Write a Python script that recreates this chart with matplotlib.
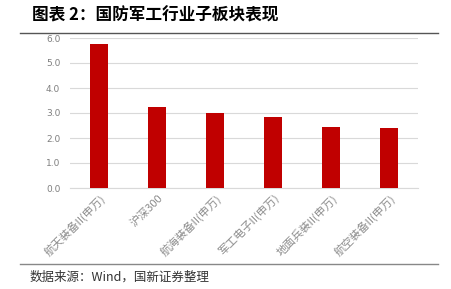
import matplotlib
matplotlib.use("Agg")
import matplotlib.pyplot as plt

plt.rcParams['font.family'] = ['Noto Sans CJK SC', 'DejaVu Sans']

categories = ["航天装备II(申万)", "沪深300", "航海装备II(申万)", "军工电子II(申万)",
              "地面兵装II(申万)", "航空装备II(申万)"]
values = [5.78, 3.24, 3.0, 2.84, 2.44, 2.4]
yticks = [0, 1, 2, 3, 4, 5, 6]

fig = plt.figure(figsize=(4.51, 2.89), dpi=100)
ax = fig.add_axes([70 / 451, 1 - 188 / 289, 348 / 451, 150 / 289])

x = range(len(categories))
ax.bar(x, values, width=0.31, color="#c00000", zorder=3)
ax.set_xlim(-0.5, len(categories) - 0.5)
ax.set_ylim(0, 6)
ax.set_yticks(yticks)
ax.set_yticklabels([f"{v:.1f}" for v in yticks], fontsize=6.5, color="#7f7f7f",
                   family=["DejaVu Sans"])
ax.set_xticks(list(x))
ax.set_xticklabels(categories, rotation=45, ha="right", rotation_mode="anchor",
                   fontsize=8, color="#8c8c8c")
ax.tick_params(axis="y", length=0, pad=7)
ax.tick_params(axis="x", length=0, pad=3)
ax.grid(axis="y", color="#d9d9d9", linewidth=0.8, zorder=0)
for s in ["top", "right", "left"]:
    ax.spines[s].set_visible(False)
ax.spines["bottom"].set_color("#d9d9d9")
ax.spines["bottom"].set_linewidth(0.8)

# title and source
fig.text(32 / 451, 1 - 16 / 289, "图表 2：国防军工行业子板块表现", fontsize=12,
         fontweight="bold", style="italic", va="center", ha="left")
fig.add_artist(plt.Line2D([20 / 451, 438 / 451], [1 - 33 / 289, 1 - 33 / 289],
                          color="#555555", linewidth=1.0))
fig.add_artist(plt.Line2D([20 / 451, 438 / 451], [1 - 264 / 289, 1 - 264 / 289],
                          color="#888888", linewidth=1.0))
fig.text(30 / 451, 1 - 277 / 289, "数据来源：Wind，国新证券整理", fontsize=9,
         color="#333333", va="center", ha="left")

fig.savefig("out.png", dpi=100)
